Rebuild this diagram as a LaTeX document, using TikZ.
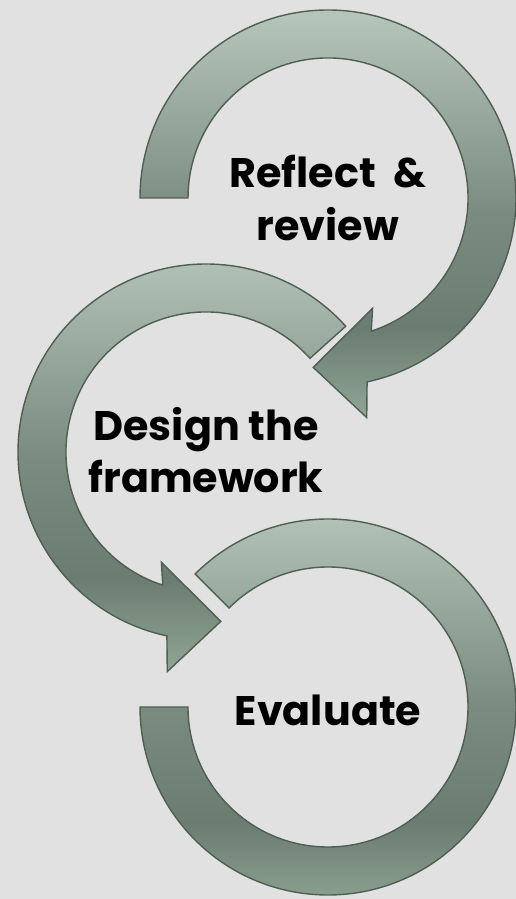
\documentclass[tikz,border=0pt]{standalone}
\usepackage{fontspec}
\setmainfont{Poppins}
\usepackage{tikz}

\definecolor{bggray}{HTML}{E1E1E1}
\definecolor{ringtop}{HTML}{B6C6BA}
\definecolor{ringdark}{HTML}{6B7C70}
\definecolor{ringlow}{HTML}{90A695}
\definecolor{ringedge}{HTML}{4F5F53}

% light on top, darkest a bit below the middle
\pgfdeclareverticalshading{ringshade}{100bp}{color(0bp)=(ringlow); color(25bp)=(ringlow);
  color(36bp)=(ringdark); color(50bp)=(ringdark!80!ringtop); color(75bp)=(ringtop);
  color(100bp)=(ringtop)}

\tikzset{
  ring/.style={draw=ringedge,line width=0.8pt,shading=ringshade},
  stage/.style={font=\bfseries\fontsize{23.5}{30}\selectfont,align=center,text=black},
  % outer edge from #1 round to the head, back along the inner edge
  pics/cyclearrow/.style={code={
    \path[ring] (#1:188) arc[start angle=#1,end angle=258,radius=188]
      -- (260:223) -- (275:170) -- (248:119) -- (252:140)
      arc[start angle=252,end angle=#1,radius=140] -- cycle;
  }}
}

\begin{document}
\begin{tikzpicture}[x=0.02cm,y=0.02cm]
\path[use as bounding box,fill=bggray] (0,0) rectangle (516,899);

\coordinate (T) at (328,701);
\coordinate (M) at (206,447);
\coordinate (B) at (328,192);

\pic[xscale=-1] at (T) {cyclearrow=0};
\pic at (M) {cyclearrow=42};
\begin{scope}[shift={(B)}]
\path[ring] (135:188) arc[start angle=135,end angle=-180,radius=188]
  -- (180:140) arc[start angle=180,end angle=495,radius=140] -- cycle;
\end{scope}

\node[stage] (reflect) at (T) {Reflect \ \&\\review};
\node[stage] (design) at ([yshift=1]M) {Design the\\framework};
\node[stage] (evaluate) at ([yshift=-2]B) {Evaluate};
\end{tikzpicture}
\end{document}
